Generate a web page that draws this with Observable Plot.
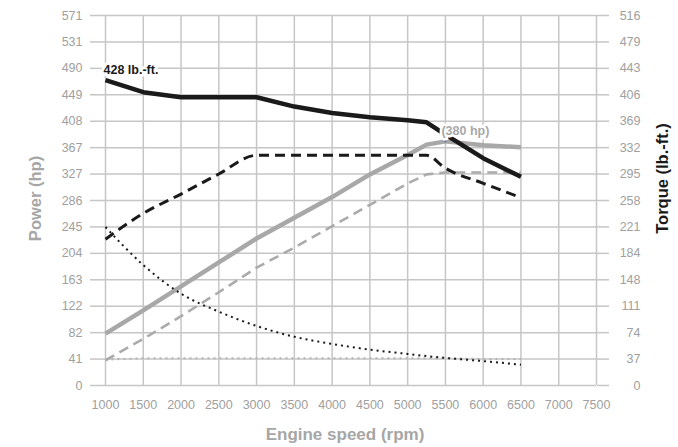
<!DOCTYPE html>
<html>
<head>
<meta charset="utf-8">
<script src="https://cdn.jsdelivr.net/npm/d3@7"></script>
<script src="https://cdn.jsdelivr.net/npm/@observablehq/plot@0.6"></script>
<style>
  html, body { margin: 0; padding: 0; background: #fff; }
  #chart svg { display: block; }
</style>
</head>
<body>
<div id="chart"></div>
<script>
// ---- data ----
const rpm = [1000, 1500, 2000, 2500, 3000, 3500, 4000, 4500, 5000, 5250, 5500, 6000, 6500];
const torqueSolid  = [426, 409, 402, 402, 402, 389, 380, 374, 370, 367, 350, 317, 291]; // lb.-ft.
const torqueDashed = [204, 240, 267, 295, 321, 321, 321, 321, 321, 321, 303, 282, 262]; // lb.-ft.
const torqueDotted = [221, 168, 128, 103, 83, 68, 58, 50, 44, 41, 38.5, 34, 29];        // lb.-ft.
const powerSolid   = [80, 116, 153, 190, 227, 259, 291, 326, 356, 372, 377, 371, 368];  // hp
const powerDashed  = [39, 72, 107, 144, 182, 213, 246, 279, 312, 326, 329, 329, 329];   // hp
const powerDotted  = [40, 42, 42, 42, 42, 42, 42, 42, 42, 42, 42, 41, 41];              // hp

const rpmTicks = [1000, 1500, 2000, 2500, 3000, 3500, 4000, 4500, 5000, 5500, 6000, 6500, 7000, 7500];
const powerTickLabels  = ["0", "41", "82", "122", "163", "204", "245", "286", "327", "367", "408", "449", "490", "531", "571"];
const torqueTickLabels = ["0", "37", "74", "111", "148", "184", "221", "258", "295", "332", "369", "406", "443", "479", "516"];
const powerMax = 571.4;
const torqueMax = 516;

const torqueNote = {rpm: 1000, torque: 428, label: "428 lb.-ft."};
const powerNote = {rpm: 5500, hp: 380, label: "(380 hp)"};

// ---- derived ----
const k = powerMax / torqueMax; // torque -> left-axis units
const step = powerMax / 14;
const yTicks = powerTickLabels.map((_, i) => i * step);
const idx = d => Math.round(d / step);

const series = [
  {name: "powerDotted", vals: powerDotted, unit: "hp", stroke: "#b3b3b3", width: 2, dash: "2,4", curve: "linear"},
  {name: "powerDashed", vals: powerDashed, unit: "hp", stroke: "#ababab", width: 2.6, dash: "10,6", curve: "linear"},
  {name: "powerSolid", vals: powerSolid, unit: "hp", stroke: "#a8a8a8", width: 4.5, dash: null, curve: "linear"},
  {name: "torqueDotted", vals: torqueDotted, unit: "tq", stroke: "#1a1a1a", width: 2, dash: "2,4", curve: "monotone-x"},
  {name: "torqueDashed", vals: torqueDashed, unit: "tq", stroke: "#1a1a1a", width: 3, dash: "10,6", curve: "monotone-x"},
  {name: "torqueSolid", vals: torqueSolid, unit: "tq", stroke: "#1a1a1a", width: 4.5, dash: null, curve: "linear"}
];
const lineMarks = series.map(s => Plot.line(
  rpm.map((r, i) => ({rpm: r, v: s.unit === "tq" ? s.vals[i] * k : s.vals[i]})),
  {x: "rpm", y: "v", curve: s.curve, stroke: s.stroke, strokeWidth: s.width, strokeDasharray: s.dash || undefined, strokeLinecap: "butt", strokeLinejoin: "round"}
));

const gridColor = "#c6c6c6";
const tickText = "#a0a0a0";
const font = "'Liberation Sans', Arial, sans-serif";

const chart = Plot.plot({
  width: 678,
  height: 447,
  marginTop: 15,
  marginBottom: 62,
  marginLeft: 105,
  marginRight: 82,
  style: {fontFamily: font, background: "#fff", overflow: "visible"},
  x: {domain: [1000, 7500]},
  y: {domain: [0, powerMax]},
  marks: [
    Plot.gridX(rpmTicks, {stroke: gridColor, strokeOpacity: 1, strokeWidth: 1.5}),
    Plot.gridY(yTicks, {stroke: gridColor, strokeOpacity: 1, strokeWidth: 1.5}),
    Plot.axisX(rpmTicks, {tickSize: 0, tickPadding: 15, fontSize: 12.5, fill: tickText, label: null, tickFormat: d => String(d)}),
    Plot.axisY(yTicks, {anchor: "left", tickSize: 15, tickPadding: 8, stroke: gridColor, strokeWidth: 1.5, fontSize: 12.5, fill: tickText, label: null, tickFormat: d => powerTickLabels[idx(d)]}),
    Plot.axisY(yTicks, {anchor: "right", tickSize: 12, tickPadding: 32, textAnchor: "end", stroke: gridColor, strokeWidth: 1.5, fontSize: 12.5, fill: tickText, label: null, tickFormat: d => torqueTickLabels[idx(d)]}),
    ...lineMarks,
    Plot.ruleX([powerNote], {x: "rpm", y1: d => d.hp - 5, y2: d => d.hp + 3, stroke: "#4f6fa3", strokeWidth: 2}),
    Plot.text([torqueNote], {x: "rpm", y: d => d.torque * k, text: "label", textAnchor: "start", dx: -2, dy: -9, fontSize: 12.5, fontWeight: "bold", fill: "#1a1a1a", stroke: "#fff", strokeWidth: 6, paintOrder: "stroke"}),
    Plot.text([powerNote], {x: "rpm", y: "hp", text: "label", textAnchor: "start", dx: -4, dy: -8, fontSize: 12.5, fontWeight: "bold", fill: "#a8a8a8", stroke: "#fff", strokeWidth: 5, paintOrder: "stroke"}),
    Plot.text(["Power (hp)"], {text: d => d, frameAnchor: "left", rotate: -90, dx: -70, dy: -2, fontSize: 16.5, fontWeight: "bold", fill: "#a6a6a6", textAnchor: "middle", lineAnchor: "middle"}),
    Plot.text(["Torque (lb.-ft.)"], {text: d => d, frameAnchor: "right", rotate: -90, dx: 66, dy: -22, fontSize: 16.5, fontWeight: "bold", fill: "#1a1a1a", textAnchor: "middle", lineAnchor: "middle"}),
    Plot.text(["Engine speed (rpm)"], {text: d => d, frameAnchor: "bottom", dx: -6, dy: 49, fontSize: 17, fontWeight: "bold", fill: "#a6a6a6", textAnchor: "middle", lineAnchor: "middle"})
  ]
});
document.getElementById("chart").appendChild(chart);
</script>
</body>
</html>
